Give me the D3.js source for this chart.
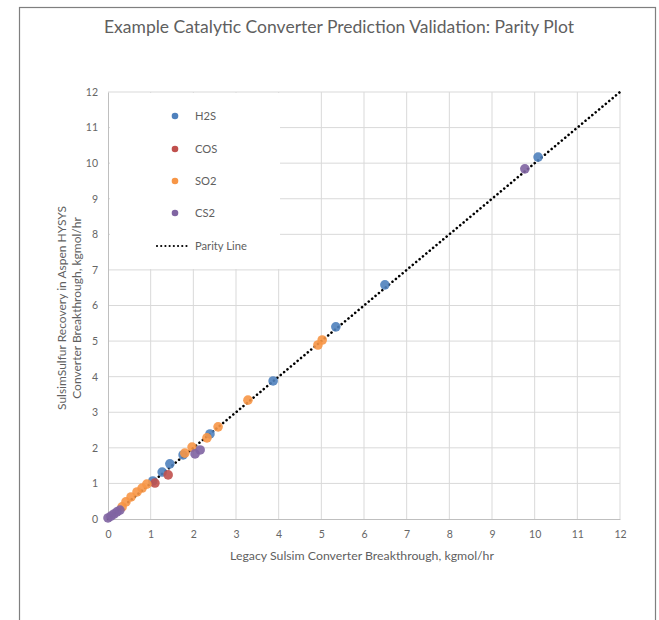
<!DOCTYPE html>
<html>
<head>
<meta charset="utf-8">
<script src="https://cdn.jsdelivr.net/npm/d3@7"></script>
<style>
  html, body { margin: 0; padding: 0; background: #fff; }
  svg { display: block; font-family: Lato, "Open Sans", sans-serif; }
</style>
</head>
<body>
<svg id="chart" width="659" height="620"></svg>
<script>
// Sulsim catalytic converter breakthrough: legacy vs. HYSYS (kgmol/hr)
const seriesNames = ["H2S", "COS", "SO2", "CS2"];
const seriesColors = ["#4F81BD", "#C0504D", "#F79646", "#8064A2"];

const h2sX = [1.05, 1.27, 1.45, 1.76, 2.39, 3.87, 5.34, 6.49, 10.08];
const h2sY = [1.07, 1.32, 1.55, 1.80, 2.39, 3.88, 5.40, 6.58, 10.17];

const cosX = [1.10, 1.41];
const cosY = [1.01, 1.24];

const so2X = [0.33, 0.42, 0.54, 0.68, 0.80, 0.91, 1.80, 1.97, 2.32, 2.58, 3.28, 4.92, 5.02];
const so2Y = [0.34, 0.48, 0.62, 0.76, 0.87, 0.98, 1.85, 2.02, 2.28, 2.59, 3.34, 4.89, 5.03];

const cs2X = [0.00, 0.07, 0.14, 0.21, 0.28, 2.04, 2.16, 9.77];
const cs2Y = [0.03, 0.08, 0.14, 0.20, 0.25, 1.83, 1.94, 9.84];

const parityX = [0, 12];
const parityY = [0, 12];

const tickValues = [0, 1, 2, 3, 4, 5, 6, 7, 8, 9, 10, 11, 12];

const titleText = "Example Catalytic Converter Prediction Validation: Parity Plot";
const xTitle = "Legacy Sulsim Converter Breakthrough, kgmol/hr";
const yTitle1 = "SulsimSulfur Recovery  in Aspen HYSYS";
const yTitle2 = "Converter Breakthrough, kgmol/hr";

const series = [
  { name: seriesNames[0], color: seriesColors[0], xs: h2sX, ys: h2sY },
  { name: seriesNames[1], color: seriesColors[1], xs: cosX, ys: cosY },
  { name: seriesNames[2], color: seriesColors[2], xs: so2X, ys: so2Y },
  { name: seriesNames[3], color: seriesColors[3], xs: cs2X, ys: cs2Y }
];

const svg = d3.select("#chart");
const plot = { left: 108, right: 620, top: 92, bottom: 519 };

const x = d3.scaleLinear().domain([0, 12]).range([plot.left, plot.right]);
const y = d3.scaleLinear().domain([0, 12]).range([plot.bottom, plot.top]);

// chart frame
svg.append("rect")
  .attr("x", 19.5).attr("y", 7.5)
  .attr("width", 636).attr("height", 640)
  .attr("fill", "#fff")
  .attr("stroke", "#7f7f7f").attr("stroke-width", 1.2);

// title
svg.append("text")
  .attr("x", 339).attr("y", 33)
  .attr("text-anchor", "middle")
  .attr("font-size", 17.5)
  .attr("fill", "#5f5f5f")
  .text(titleText);

// gridlines
const grid = svg.append("g");
grid.selectAll(".gx").data(tickValues.slice(1)).enter().append("line")
  .attr("x1", d => x(d)).attr("x2", d => x(d))
  .attr("y1", plot.top).attr("y2", plot.bottom)
  .attr("stroke", "#d9d9d9").attr("stroke-width", 1);
grid.selectAll(".gy").data(tickValues.slice(1)).enter().append("line")
  .attr("x1", plot.left).attr("x2", plot.right)
  .attr("y1", d => y(d)).attr("y2", d => y(d))
  .attr("stroke", "#d9d9d9").attr("stroke-width", 1);

// axes
const xAxis = svg.append("g")
  .attr("transform", `translate(0,${plot.bottom})`)
  .call(d3.axisBottom(x).tickValues(tickValues).tickSize(0).tickPadding(12).tickFormat(d3.format("d")));
const yAxis = svg.append("g")
  .attr("transform", `translate(${plot.left},0)`)
  .call(d3.axisLeft(y).tickValues(tickValues).tickSize(0).tickPadding(10).tickFormat(d3.format("d")));
[xAxis, yAxis].forEach(g => {
  g.select(".domain").attr("stroke", "#bfbfbf");
  g.selectAll("text").attr("fill", "#666").attr("font-size", 10.5)
    .attr("font-family", "Lato, 'Open Sans', sans-serif");
});

// axis titles
svg.append("text")
  .attr("x", 362).attr("y", 560)
  .attr("text-anchor", "middle")
  .attr("font-size", 12.3)
  .attr("fill", "#5f5f5f")
  .text(xTitle);
const yt = svg.append("text")
  .attr("transform", "translate(66,308) rotate(-90)")
  .attr("text-anchor", "middle")
  .attr("font-size", 12)
  .attr("fill", "#5f5f5f");
yt.append("tspan").attr("x", 0).attr("dy", 0).text(yTitle1);
yt.append("tspan").attr("x", 0).attr("dy", 14.5).text(yTitle2);

// legend box (sits over the grid)
const legend = svg.append("g");
legend.append("rect")
  .attr("x", 110).attr("y", 93)
  .attr("width", 170).attr("height", 176)
  .attr("fill", "#fff");

// parity line
svg.append("line")
  .attr("x1", x(parityX[0])).attr("y1", y(parityY[0]))
  .attr("x2", x(parityX[1])).attr("y2", y(parityY[1]))
  .attr("stroke", "#000").attr("stroke-width", 2.6)
  .attr("stroke-linecap", "round")
  .attr("stroke-dasharray", "0.01 4.4");

// points
series.forEach(s => {
  svg.append("g").selectAll("circle")
    .data(s.xs.map((v, i) => [v, s.ys[i]]))
    .enter().append("circle")
    .attr("cx", d => x(d[0])).attr("cy", d => y(d[1]))
    .attr("r", 4.8)
    .attr("fill", s.color)
    .attr("fill-opacity", 0.9);
});

// legend entries
const legendY = [116, 149, 181, 213];
series.forEach((s, i) => {
  legend.append("circle")
    .attr("cx", 175).attr("cy", legendY[i]).attr("r", 3.3)
    .attr("fill", s.color);
  legend.append("text")
    .attr("x", 195).attr("y", legendY[i] + 4)
    .attr("font-size", 11.2).attr("fill", "#5f5f5f")
    .text(s.name);
});
legend.append("line")
  .attr("x1", 157).attr("x2", 189)
  .attr("y1", 246).attr("y2", 246)
  .attr("stroke", "#000").attr("stroke-width", 2.2)
  .attr("stroke-linecap", "round")
  .attr("stroke-dasharray", "0.01 4.2");
legend.append("text")
  .attr("x", 195).attr("y", 250)
  .attr("font-size", 11.2).attr("fill", "#5f5f5f")
  .text("Parity Line");
</script>
</body>
</html>
